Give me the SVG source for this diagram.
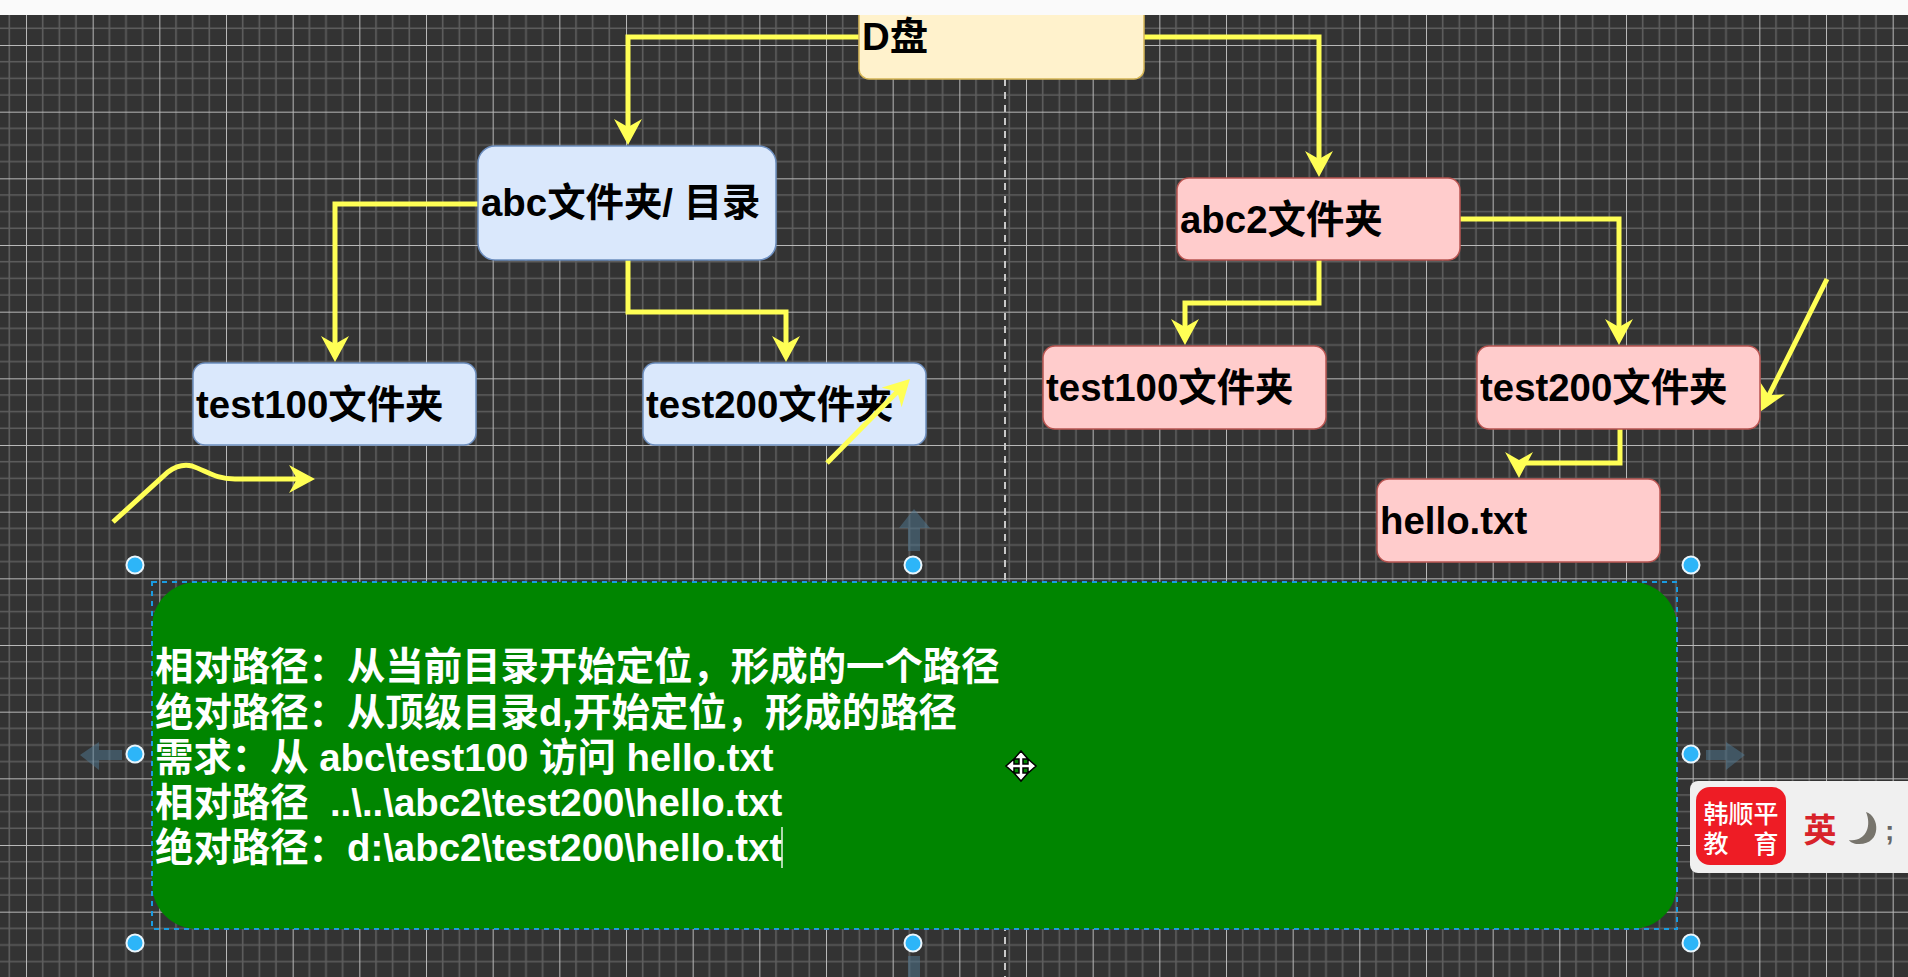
<svg xmlns="http://www.w3.org/2000/svg" width="1908" height="977" viewBox="0 0 1908 977">
<defs>
<pattern id="grid" x="26" y="45" width="66.6667" height="66.6667" patternUnits="userSpaceOnUse"><path d="M16.667 0V66.667M33.333 0V66.667M50 0V66.667M0 16.667H66.667M0 33.333H66.667M0 50H66.667" fill="none" stroke="#5e5e5e" stroke-width="1.6"/><path d="M0 0V66.667M0 0H66.667" fill="none" stroke="#b8b8b8" stroke-width="2"/></pattern>
<marker id="arrow" markerUnits="userSpaceOnUse" markerWidth="32" markerHeight="32" refX="19" refY="14" orient="auto"><path d="M0 0L26 14L0 28L8 14Z" fill="#ffff55"/></marker>
</defs>
<style>
.box{stroke-width:1.5}
.blue{fill:#dae8fc;stroke:#6c8ebf}
.pink{fill:#ffcccc;stroke:#b85450}
.label{font:bold 38.4px "Liberation Sans","Noto Sans CJK SC",sans-serif;fill:#000}
.note{font:bold 38.4px "Liberation Sans","Noto Sans CJK SC",sans-serif;fill:#fff;white-space:pre}
.wire{fill:none;stroke:#ffff55;stroke-width:5;marker-end:url(#arrow)}
.handle{fill:#2db5f8;stroke:#eaf5fb;stroke-width:2}
.ghost{fill:#4f7a94;opacity:.5}
.logo{font-family:"Noto Sans CJK SC",sans-serif;font-weight:500;font-size:25px;fill:#fff;text-anchor:middle}
</style>
<rect width="1908" height="977" fill="#333"/>
<rect width="1908" height="977" fill="url(#grid)"/>
<path d="M1005 79V977" stroke="#c8c8c8" stroke-width="2" stroke-dasharray="7 6" fill="none"/>
<g id="connectors">
<path class="wire" d="M859 37H628V138"/>
<path class="wire" d="M1144 37H1319V170"/>
<path class="wire" d="M478 204H335V355"/>
<path class="wire" d="M628 260V312H786V355"/>
<path class="wire" d="M1319 260V303H1185V338"/>
<path class="wire" d="M1460 219H1619V338"/>
<path class="wire" d="M1620 429V463H1519V471"/>
<path class="wire" d="M1827 279L1764 405"/>
<path class="wire" d="M113 522L168 472Q180 463 192 466C207 471 215 479 235 479H308"/>
</g>
<g id="d-drive"><rect class="box" x="859" y="5" width="285" height="74" rx="10" fill="#fff2cc" stroke="#d6b656"/><text class="label" x="862" y="50">D盘</text></g>
<rect id="top-bar" width="1908" height="15" fill="#fafafa"/>
<g id="abc"><rect class="box blue" x="478" y="146" width="298" height="114" rx="17"/><text class="label" x="481" y="216">abc文件夹/ 目录</text></g>
<g id="abc2"><rect class="box pink" x="1177" y="178" width="283" height="82" rx="12"/><text class="label" x="1180" y="233">abc2文件夹</text></g>
<g id="test100-left"><rect class="box blue" x="193" y="363" width="283" height="82" rx="12"/><text class="label" x="196" y="418">test100文件夹</text></g>
<g id="test200-left"><rect class="box blue" x="643" y="363" width="283" height="82" rx="12"/><text class="label" x="646" y="418">test200文件夹</text></g>
<g id="test100-right"><rect class="box pink" x="1043" y="346" width="283" height="83" rx="12"/><text class="label" x="1046" y="401">test100文件夹</text></g>
<g id="test200-right"><rect class="box pink" x="1477" y="346" width="283" height="83" rx="12"/><text class="label" x="1480" y="401">test200文件夹</text></g>
<g id="hello"><rect class="box pink" x="1377" y="479" width="283" height="83" rx="12"/><text class="label" x="1380" y="534">hello.txt</text></g>
<path class="wire" d="M827 463L905 384"/>
<g id="ghost-arrows">
<path class="ghost" d="M908 551V528H899L914 509L930 528H920V551Z"/>
<path class="ghost" d="M122 750H99V742L80 755L99 770V760H122Z"/>
<path class="ghost" d="M1706 750H1726V742L1745 755L1726 770V760H1706Z"/>
<path class="ghost" d="M908 956H920V977H908Z"/>
</g>
<g id="note">
<rect x="152" y="582" width="1525" height="347" rx="45" fill="#008500"/>
<rect x="152" y="582" width="1525" height="347" fill="none" stroke="#1a9be0" stroke-width="2" stroke-dasharray="5 5"/>
<text class="note" x="155" y="680">相对路径：从当前目录开始定位，形成的一个路径</text>
<text class="note" x="155" y="726">绝对路径：从顶级目录d,开始定位，形成的路径</text>
<text class="note" x="155" y="771">需求：从 abc\test100 访问 hello.txt</text>
<text class="note" x="155" y="816">相对路径  ..\..\abc2\test200\hello.txt</text>
<text class="note" x="155" y="861">绝对路径：d:\abc2\test200\hello.txt</text>
<path d="M782 827V868" stroke="#e8f4e8" stroke-width="1.5"/>
</g>
<g id="handles">
<circle class="handle" cx="135" cy="565" r="8.5"/><circle class="handle" cx="913" cy="565" r="8.5"/><circle class="handle" cx="1691" cy="565" r="8.5"/>
<circle class="handle" cx="135" cy="754" r="8.5"/><circle class="handle" cx="1691" cy="754" r="8.5"/>
<circle class="handle" cx="135" cy="943" r="8.5"/><circle class="handle" cx="913" cy="943" r="8.5"/><circle class="handle" cx="1691" cy="943" r="8.5"/>
</g>
<g id="move-cursor" transform="translate(1021 766)"><path d="M0-15L-7-7H-2V-2H-7V-7L-15 0L-7 7V2H-2V7H-7L0 15L7 7H2V2H7V7L15 0L7-7V-2H2V-7H7Z" fill="#fff" stroke="#000" stroke-width="1.5"/></g>
<g id="logo">
<rect x="1690" y="781" width="230" height="92" rx="8" fill="#f0f0f0"/>
<rect x="1696" y="787" width="90" height="78" rx="14" fill="#ee1c25"/>
<text class="logo" x="1741" y="823">韩顺平</text>
<text class="logo" x="1716" y="853">教</text>
<text class="logo" x="1766" y="853">育</text>
<text x="1820" y="842" text-anchor="middle" font-family="'Noto Sans CJK SC',sans-serif" font-weight="700" font-size="33" fill="#d8232a">英</text>
<path d="M1866 812C1880 816 1882 845 1858 844C1854 844 1850 842 1849 840C1866 842 1872 826 1866 812Z" fill="#77746c"/>
<text x="1885" y="840" font-family="'Liberation Sans',sans-serif" font-size="28" font-weight="bold" fill="#666">;</text>
</g>
</svg>
